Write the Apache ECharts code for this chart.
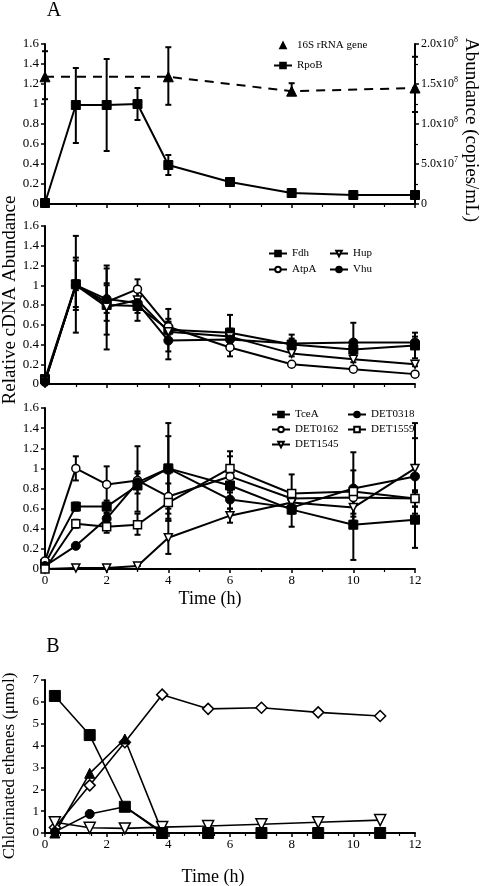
<!DOCTYPE html>
<html>
<head>
<meta charset="utf-8">
<script src="https://cdn.jsdelivr.net/npm/echarts@6/dist/echarts.min.js"></script>
<style>
html,body{margin:0;padding:0;background:#fff;}
#chart{width:482px;height:886px;}
</style>
</head>
<body>
<div id="chart"></div>
<script>
// ---------- DATA ----------
const timesA = [0, 1, 2, 3, 4, 6, 8, 10, 12];

// Panel A (top): RpoB (relative) and 16S rRNA gene (copies/mL)
const rpoB      = [0.01, 0.99, 0.99, 1.00, 0.39, 0.22, 0.11, 0.09, 0.09];
const rpoBLow   = [0.00, 0.61, 0.53, 0.84, 0.29, 0.19, 0.10, 0.08, 0.08];
const rpoBHigh  = [0.02, 1.36, 1.45, 1.16, 0.49, 0.25, 0.12, 0.10, 0.10];
const times16S  = [0, 4, 8, 12];
const rRNA16S     = [1.59e8, 1.59e8, 1.41e8, 1.45e8];
const rRNA16SLow  = [1.31e8, 1.24e8, 1.38e8, 1.15e8];
const rRNA16SHigh = [1.91e8, 1.96e8, 1.51e8, 1.84e8];

// Panel A (middle)
const fdh      = [0.05, 1.01, 0.80, 0.79, 0.55, 0.52, 0.40, 0.35, 0.39];
const fdhLow   = [0.05, 0.52, 0.35, 0.64, 0.33, 0.35, 0.32, 0.28, 0.26];
const fdhHigh  = [0.05, 1.50, 1.20, 0.94, 0.76, 0.70, 0.50, 0.42, 0.52];
const atpA     = [0.03, 1.00, 0.83, 0.96, 0.58, 0.37, 0.20, 0.15, 0.10];
const atpALow  = [0.03, 0.75, 0.64, 0.86, 0.50, 0.28, 0.18, 0.13, 0.08];
const atpAHigh = [0.03, 1.28, 1.02, 1.06, 0.66, 0.46, 0.22, 0.17, 0.12];
const hup      = [0.03, 1.00, 0.78, 0.85, 0.53, 0.48, 0.31, 0.25, 0.20];
const hupLow   = [0.03, 0.78, 0.50, 0.72, 0.43, 0.40, 0.28, 0.22, 0.18];
const hupHigh  = [0.03, 1.25, 1.17, 0.98, 0.63, 0.56, 0.34, 0.28, 0.22];
const vhu      = [0.02, 1.00, 0.86, 0.82, 0.44, 0.45, 0.41, 0.42, 0.42];
const vhuLow   = [0.02, 0.95, 0.72, 0.76, 0.25, 0.40, 0.36, 0.30, 0.36];
const vhuHigh  = [0.02, 1.05, 1.00, 0.88, 0.63, 0.50, 0.46, 0.62, 0.48];

// Panel A (bottom)
const tceA        = [0.05, 0.62, 0.62, 0.83, 1.00, 0.83, 0.59, 0.44, 0.49];
const tceALow     = [0.05, 0.58, 0.56, 0.75, 0.55, 0.76, 0.42, 0.09, 0.21];
const tceAHigh    = [0.05, 0.66, 0.68, 0.97, 1.45, 0.90, 0.77, 0.78, 0.77];
const det0162     = [0.08, 1.00, 0.84, 0.88, 0.72, 0.92, 0.70, 0.71, 0.70];
const det0162Low  = [0.08, 0.88, 0.66, 0.80, 0.48, 0.80, 0.62, 0.62, 0.62];
const det0162High = [0.08, 1.12, 1.02, 0.95, 0.95, 1.12, 0.78, 0.80, 0.78];
const det1545     = [0.00, 0.01, 0.01, 0.03, 0.31, 0.53, 0.66, 0.61, 1.00];
const det1545Low  = [0.00, 0.01, 0.01, 0.03, 0.15, 0.46, 0.60, 0.52, 0.55];
const det1545High = [0.00, 0.01, 0.01, 0.03, 0.48, 0.60, 0.72, 0.70, 1.45];
const det0318     = [0.03, 0.23, 0.50, 0.86, 1.00, 0.69, 0.61, 0.80, 0.92];
const det0318Low  = [0.03, 0.23, 0.45, 0.57, 0.60, 0.60, 0.55, 0.48, 0.76];
const det0318High = [0.03, 0.23, 0.55, 1.22, 1.32, 0.78, 0.68, 1.16, 1.30];
const det1559     = [0.00, 0.45, 0.42, 0.44, 0.66, 1.00, 0.75, 0.77, 0.70];
const det1559Low  = [0.00, 0.41, 0.36, 0.34, 0.50, 0.85, 0.60, 0.55, 0.62];
const det1559High = [0.00, 0.49, 0.48, 0.55, 0.85, 1.17, 0.94, 0.98, 0.78];

// Panel B: chlorinated ethenes (µmol)
const timesB        = [0.32, 1.45, 2.59, 3.80, 5.29, 7.02, 8.86, 10.87];
const bSquare       = [6.27, 4.48, 1.20, 0.00, 0.00, 0.00, 0.00, 0.00];
const bDiamond      = [0.25, 2.18, 4.15, 6.33, 5.68, 5.73, 5.52, 5.35];
const bOpenTriangle = [0.49, 0.24, 0.21, 0.27, 0.32, 0.40, 0.49, 0.59];
const timesBShort   = [0.32, 1.45, 2.59, 3.80];
const bTriangle     = [0.00, 2.73, 4.30, 0.05];
const bCircle       = [0.05, 0.87, 1.20, 0.05];

// Axis ticks / labels
const relTicks = {min: 0, max: 1.6, interval: 0.2};
const abundTicks = {min: 0, max: 2e8, interval: 5e7};
const timeTicks = {min: 0, max: 12, interval: 2};
const ethTicks = {min: 0, max: 7, interval: 1};

// ---------- CHART ----------
const FONT = 'Liberation Serif';
const BLACK = '#000';
const chart = echarts.init(document.getElementById('chart'), null, {renderer: 'canvas'});

const pairs = (xs, ys) => xs.map((x, i) => [x, ys[i]]);
const triples = (xs, lo, hi) => xs.map((x, i) => [x, lo[i], hi[i]]);

const filled = {color: BLACK, borderColor: BLACK, borderWidth: 1};
const open = {color: '#fff', borderColor: BLACK, borderWidth: 1.5};

function line(name, xs, ys, xi, yi, symbol, size, style, extra) {
  return Object.assign({
    type: 'line', name, xAxisIndex: xi, yAxisIndex: yi,
    data: pairs(xs, ys), symbol, symbolSize: size,
    itemStyle: style, lineStyle: {color: BLACK, width: 2},
    showSymbol: true, clip: false, z: 3
  }, extra || {});
}

function errBars(xs, lo, hi, xi, yi) {
  return {
    type: 'custom', xAxisIndex: xi, yAxisIndex: yi, clip: false, z: 2,
    data: triples(xs, lo, hi),
    encode: {x: 0, y: [1, 2]},
    renderItem: function (params, api) {
      const x = api.value(0);
      const a = api.coord([x, api.value(1)]);
      const b = api.coord([x, api.value(2)]);
      const w = 3;
      const st = {stroke: BLACK, lineWidth: 2};
      return {type: 'group', children: [
        {type: 'line', shape: {x1: a[0], y1: a[1], x2: b[0], y2: b[1]}, style: st},
        {type: 'line', shape: {x1: a[0] - w, y1: a[1], x2: a[0] + w, y2: a[1]}, style: st},
        {type: 'line', shape: {x1: b[0] - w, y1: b[1], x2: b[0] + w, y2: b[1]}, style: st}
      ]};
    }
  };
}

const axisLine = {show: true, onZero: false, lineStyle: {color: BLACK, width: 2}};
const labelStyle = {color: BLACK, fontFamily: FONT, fontSize: 13};

function xAx(grid, showLabel, minorSplit) {
  return {
    type: 'value', gridIndex: grid, min: timeTicks.min, max: timeTicks.max, interval: timeTicks.interval,
    axisLine, axisTick: {show: true, length: 4, lineStyle: {color: BLACK, width: 1.5}},
    minorTick: {show: true, splitNumber: minorSplit, length: 3, lineStyle: {color: BLACK, width: 1.2}},
    splitLine: {show: false},
    axisLabel: Object.assign({show: showLabel, margin: 5}, labelStyle)
  };
}
function yAx(grid, t) {
  return {
    type: 'value', gridIndex: grid, min: t.min, max: t.max, interval: t.interval,
    axisLine, axisTick: {show: true, length: 4, lineStyle: {color: BLACK, width: 1.5}},
    splitLine: {show: false},
    axisLabel: Object.assign({margin: 6}, labelStyle)
  };
}

const rightAxis = {
  type: 'value', gridIndex: 0, position: 'right',
  min: abundTicks.min, max: abundTicks.max, interval: abundTicks.interval,
  axisLine, axisTick: {show: true, length: 4, lineStyle: {color: BLACK, width: 1.5}},
  minorTick: {show: true, splitNumber: 2, length: 3, lineStyle: {color: BLACK, width: 1.2}},
  splitLine: {show: false},
  axisLabel: {
    margin: 6, color: BLACK, fontFamily: FONT, fontSize: 12,
    formatter: function (v) {
      if (v === 0) return '{b|0}';
      const e = Math.floor(Math.log10(v) + 1e-9);
      const m = (v / Math.pow(10, e)).toFixed(1);
      return '{b|' + m + 'x10}{s|' + e + '}';
    },
    rich: {
      b: {fontFamily: FONT, fontSize: 12, color: BLACK},
      s: {fontFamily: FONT, fontSize: 8, color: BLACK, padding: [0, 0, 8, 0]}
    }
  }
};

function legend(names, left, top, gap) {
  return {
    data: names, left, top, orient: 'vertical', itemGap: gap, padding: 0,
    itemWidth: 18, itemHeight: 7, selectedMode: false,
    textStyle: {fontFamily: FONT, fontSize: 11, color: BLACK}
  };
}

function gtext(text, x, y, size, rot) {
  return {
    type: 'text', x, y, rotation: rot || 0,
    style: {text, fontFamily: FONT, fontSize: size, fill: BLACK,
      textAlign: 'center', textVerticalAlign: 'middle', align: 'center', verticalAlign: 'middle'}
  };
}

const topLegend = legend(['16S rRNA gene', 'RpoB'], 273, 40, 9);
topLegend.data = [{name: '16S rRNA gene', lineStyle: {opacity: 0}}, 'RpoB'];

const option = {
  animation: false,
  backgroundColor: '#fff',
  grid: [
    {left: 45, top: 44, width: 370, height: 160},
    {left: 45, top: 226, width: 370, height: 158},
    {left: 45, top: 408, width: 370, height: 161},
    {left: 45, top: 680, width: 370, height: 153}
  ],
  xAxis: [xAx(0, false, 2), xAx(1, false, 2), xAx(2, true, 2), xAx(3, true, 4)],
  yAxis: [yAx(0, relTicks), rightAxis, yAx(1, relTicks), yAx(2, relTicks), yAx(3, ethTicks)],
  legend: [
    topLegend,
    legend(['Fdh', 'AtpA'], 268, 248, 5),
    legend(['Hup', 'Vhu'], 329, 248, 5),
    legend(['TceA', 'DET0162', 'DET1545'], 271, 409, 4),
    legend(['DET0318', 'DET1559'], 347, 409, 4)
  ],
  graphic: [
    gtext('A', 54, 11, 20),
    gtext('B', 53, 647, 20),
    gtext('Relative cDNA Abundance', 10, 300, 19, Math.PI / 2),
    gtext('Abundance (copies/mL)', 471, 130, 19, -Math.PI / 2),
    gtext('Time (h)', 210, 599, 18),
    gtext('Time (h)', 213, 877, 18),
    gtext('Chlorinated ethenes (\u03bcmol)', 10, 766, 17, Math.PI / 2)
  ],
  series: [
    // top
    errBars(times16S, rRNA16SLow, rRNA16SHigh, 0, 1),
    line('16S rRNA gene', times16S, rRNA16S, 0, 1, 'triangle', 10, filled,
      {lineStyle: {color: BLACK, width: 2, type: [9, 7]}}),
    errBars(timesA, rpoBLow, rpoBHigh, 0, 0),
    line('RpoB', timesA, rpoB, 0, 0, 'rect', 9, filled),
    // middle
    errBars(timesA, fdhLow, fdhHigh, 1, 2),
    errBars(timesA, atpALow, atpAHigh, 1, 2),
    errBars(timesA, hupLow, hupHigh, 1, 2),
    errBars(timesA, vhuLow, vhuHigh, 1, 2),
    line('Fdh', timesA, fdh, 1, 2, 'rect', 9, filled),
    line('AtpA', timesA, atpA, 1, 2, 'circle', 8, open),
    line('Hup', timesA, hup, 1, 2, 'triangle', 8, open, {symbolRotate: 180}),
    line('Vhu', timesA, vhu, 1, 2, 'circle', 9, filled),
    // bottom
    errBars(timesA, tceALow, tceAHigh, 2, 3),
    errBars(timesA, det0162Low, det0162High, 2, 3),
    errBars(timesA, det1545Low, det1545High, 2, 3),
    errBars(timesA, det0318Low, det0318High, 2, 3),
    errBars(timesA, det1559Low, det1559High, 2, 3),
    line('TceA', timesA, tceA, 2, 3, 'rect', 9, filled),
    line('DET0162', timesA, det0162, 2, 3, 'circle', 8, open),
    line('DET1545', timesA, det1545, 2, 3, 'triangle', 8, open, {symbolRotate: 180}),
    line('DET0318', timesA, det0318, 2, 3, 'circle', 9, filled),
    line('DET1559', timesA, det1559, 2, 3, 'rect', 8, open),
    // panel B
    line('B diamond', timesB, bDiamond, 3, 4, 'diamond', 11, open, {lineStyle: {color: BLACK, width: 1.6}}),
    line('B triangle', timesBShort, bTriangle, 3, 4, 'triangle', 10, filled, {lineStyle: {color: BLACK, width: 1.6}}),
    line('B circle', timesBShort, bCircle, 3, 4, 'circle', 9, filled, {lineStyle: {color: BLACK, width: 1.6}}),
    line('B open triangle', timesB, bOpenTriangle, 3, 4, 'triangle', 11, open, {symbolRotate: 180, lineStyle: {color: BLACK, width: 1.6}}),
    line('B square', timesB, bSquare, 3, 4, 'rect', 11, filled, {lineStyle: {color: BLACK, width: 1.6}, z: 4})
  ]
};
chart.setOption(option);
</script>
</body>
</html>
